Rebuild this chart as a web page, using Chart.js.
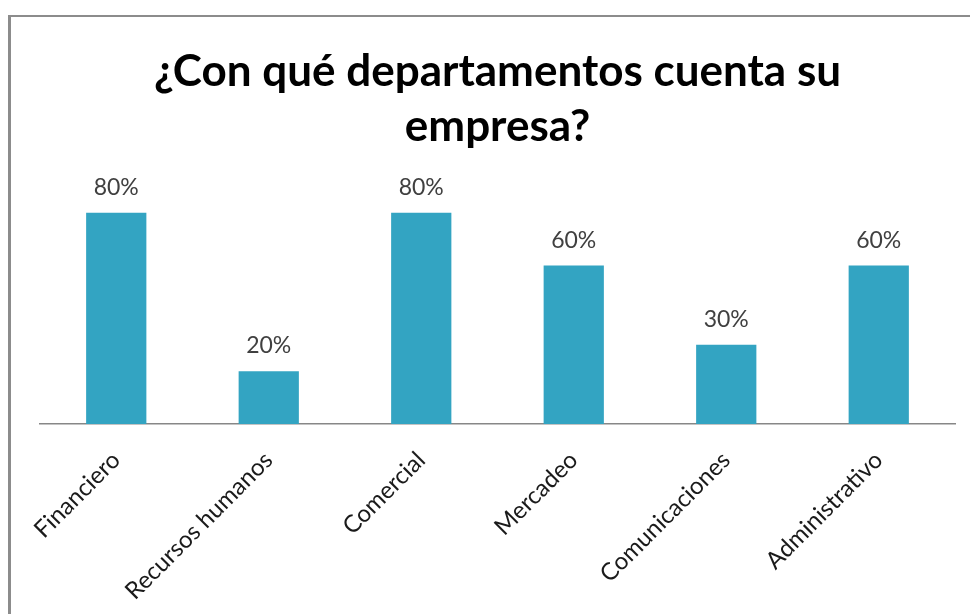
<!DOCTYPE html>
<html>
<head>
<meta charset="utf-8">
<script src="https://cdn.jsdelivr.net/npm/chart.js@4.4.1/dist/chart.umd.min.js"></script>
<style>
    html, body { margin: 0; padding: 0; background: #fff; }
    #wrap { position: relative; width: 970px; height: 614px; }
    #frame {
        position: absolute; left: 8px; top: 15px; right: 0; bottom: 0;
        border-left: 3px solid #8c8c8c; border-top: 2px solid #8c8c8c;
        pointer-events: none;
    }
</style>
</head>
<body>
<div id="wrap">
    <canvas id="barChart" width="970" height="614"></canvas>
    <div id="frame"></div>
</div>
<script>
const titleLines = ['¿Con qué departamentos cuenta su', 'empresa?'];
const departments = ['Financiero', 'Recursos humanos', 'Comercial', 'Mercadeo', 'Comunicaciones', 'Administrativo'];
const percentages = [80, 20, 80, 60, 30, 60];

// prints "NN%" above every bar
const valueLabels = {
    id: 'valueLabels',
    afterDatasetsDraw(chart) {
        const { ctx } = chart;
        const meta = chart.getDatasetMeta(0);
        ctx.save();
        ctx.font = '23px Lato';
        ctx.fillStyle = '#404040';
        ctx.textAlign = 'center';
        ctx.textBaseline = 'alphabetic';
        meta.data.forEach((bar, i) => {
            ctx.fillText(percentages[i] + '%', bar.x, bar.y - 18);
        });
        ctx.restore();
    }
};

const ctx = document.getElementById('barChart').getContext('2d');

new Chart(ctx, {
    type: 'bar',
    data: {
        labels: departments,
        datasets: [
            {
                data: percentages,
                backgroundColor: '#33a4c2',
                borderWidth: 0,
                barPercentage: 0.395,
                categoryPercentage: 1,
            },
        ],
    },
    options: {
        responsive: false,
        animation: false,
        layout: {
            padding: { left: 40, right: 15, top: 0, bottom: 0 },
        },
        plugins: {
            legend: { display: false },
            tooltip: { enabled: false },
            title: {
                display: true,
                text: titleLines,
                color: '#000',
                font: { family: 'Lato', size: 44, weight: 'bold', lineHeight: 1.25 },
                padding: { top: 44, bottom: 6 },
            },
        },
        scales: {
            x: {
                grid: { display: false, drawTicks: false },
                border: { display: true, color: '#878787', width: 1.5 },
                ticks: {
                    minRotation: 45,
                    maxRotation: 45,
                    padding: 22,
                    color: '#1a1a1a',
                    font: { family: 'Lato', size: 24 },
                },
                // keep the axis line at a fixed height, long labels may run to the edge
                afterFit(scale) {
                    scale.height = 190;
                },
            },
            y: {
                display: false,
                min: 0,
                max: 100,
            },
        },
    },
    plugins: [valueLabels],
});
</script>
</body>
</html>
